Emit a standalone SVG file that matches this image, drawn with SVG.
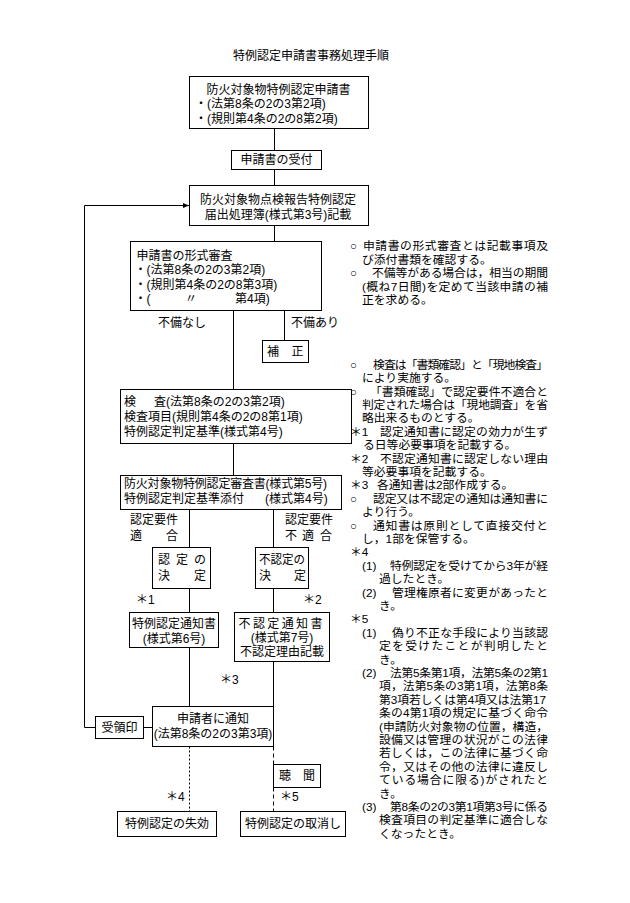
<svg xmlns="http://www.w3.org/2000/svg" width="630" height="903" viewBox="0 0 630 903">
<style>
text{font-family:"Liberation Sans","Noto Sans CJK JP",sans-serif;font-size:12px;fill:#000}
#notes text{font-size:11.8px}
.b{fill:#fff;stroke:#000;stroke-width:1}
.c{stroke:#000;stroke-width:1;fill:none}
.dot{stroke-dasharray:2 2}
.dash{stroke-dasharray:4 3}
.m{text-anchor:middle}
</style>
<defs>
<marker id="ar" markerWidth="6" markerHeight="6" refX="6" refY="3" orient="auto" markerUnits="userSpaceOnUse">
<path d="M0,0.5 L6,3 L0,5.5 Z" fill="#000"/>
</marker>
</defs>
<rect width="630" height="903" fill="#fff"/>
<text x="311" y="60" class="m">特例認定申請書事務処理手順</text>

<g id="connectors">
<path class="c" d="M274.5,128.5V150.5M274.5,169.5V185.5M274.5,225.5V241.5"/>
<path class="c" d="M95.5,727.5H84.5V205.5H189" marker-end="url(#ar)"/>
<path class="c" d="M143.5,727.5H152.5"/>
<path class="c" d="M233.5,310.5V389.5M284.5,310.5V340.5M233.5,443.5V475.5"/>
<path class="c" d="M189.5,509.5V547.5M273.5,509.5V547.5M189.5,588.5V612.5M273.5,588.5V612.5"/>
<path class="c" d="M189.5,647.5V706.5M273.5,661.5V706.5"/>
<path class="c dot" d="M189.5,746.5V811.5"/>
<path class="c dash" d="M273.5,746.5V764.5M273.5,787.5V811.5"/>
</g>

<g id="n-application">
<rect class="b" x="189.5" y="76.5" width="179" height="52"/>
<text x="206.5" y="93.5">防火対象物特例認定申請書</text>
<text x="195" y="108">・(法第8条の2の3第2項)</text>
<text x="195" y="122.5">・(規則第4条の2の8第2項)</text>
</g>

<g id="n-receipt">
<rect class="b" x="231.5" y="150.5" width="90" height="19"/>
<text x="276.5" y="164.3" class="m">申請書の受付</text>
</g>

<g id="n-register">
<rect class="b" x="189.5" y="185.5" width="179" height="40"/>
<text x="278" y="204.3" class="m">防火対象物点検報告特例認定</text>
<text x="278" y="219.3" class="m">届出処理簿(様式第3号)記載</text>
</g>

<g id="n-formal">
<rect class="b" x="130.5" y="241.5" width="191" height="69"/>
<text x="136.5" y="259.8">申請書の形式審査</text>
<text x="134.5" y="274.3">・(法第8条の2の3第2項)</text>
<text x="134.5" y="288.8">・(規則第4条の2の8第3項)</text>
<text x="134.5" y="303.3">・(<tspan x="185">〃</tspan><tspan x="235">第4項)</tspan></text>
</g>

<g id="n-correction">
<rect class="b" x="262.5" y="340.5" width="46" height="22"/>
<text x="267" y="355.8">補<tspan x="291.5">正</tspan></text>
</g>
<text x="158" y="327.3">不備なし</text>
<text x="291" y="327.3">不備あり</text>

<g id="n-inspection">
<rect class="b" x="120.5" y="389.5" width="231" height="54"/>
<text x="124" y="406">検<tspan x="154">査(法第8条の2の3第2項)</tspan></text>
<text x="124" y="421">検査項目(規則第4条の2の8第1項)</text>
<text x="124" y="436">特例認定判定基準(様式第4号)</text>
</g>

<g id="n-review">
<rect class="b" x="120.5" y="475.5" width="221" height="34"/>
<text x="124" y="488.3" textLength="203" lengthAdjust="spacing">防火対象物特例認定審査書(様式第5号)</text>
<text x="124" y="503.3">特例認定判定基準添付<tspan x="265">(様式第4号)</tspan></text>
</g>

<text x="130" y="524.3">認定要件</text>
<text x="130" y="540.3">適<tspan x="166">合</tspan></text>
<text x="285" y="524.3">認定要件</text>
<text x="285" y="540.3">不<tspan x="302">適</tspan><tspan x="320">合</tspan></text>

<g id="n-approve">
<rect class="b" x="152.5" y="547.5" width="58" height="41"/>
<text x="158" y="564.3">認<tspan x="176">定</tspan><tspan x="194">の</tspan></text>
<text x="158" y="580.3">決<tspan x="194">定</tspan></text>
</g>

<g id="n-reject">
<rect class="b" x="255.5" y="547.5" width="53" height="41"/>
<text x="259" y="564.3" textLength="46" lengthAdjust="spacingAndGlyphs">不認定の</text>
<text x="259" y="580.3">決<tspan x="294">定</tspan></text>
</g>

<text x="136" y="604.3">＊1</text>
<text x="303" y="604.3">＊2</text>

<g id="n-notice-ok">
<rect class="b" x="129.5" y="612.5" width="89" height="35"/>
<text x="174" y="628.3" class="m">特例認定通知書</text>
<text x="174" y="643.3" class="m">(様式第6号)</text>
</g>

<g id="n-notice-ng">
<rect class="b" x="234.5" y="612.5" width="95" height="49"/>
<text x="238.5" y="627.8" textLength="84" lengthAdjust="spacing">不認定通知書</text>
<text x="282" y="641.8" class="m">(様式第7号)</text>
<text x="282" y="655.8" class="m">不認定理由記載</text>
</g>

<text x="220" y="684.3">＊3</text>

<g id="n-receipt-seal">
<rect class="b" x="95.5" y="716.5" width="48" height="22"/>
<text x="119.5" y="731.8" class="m">受領印</text>
</g>

<g id="n-notify">
<rect class="b" x="152.5" y="706.5" width="121" height="40"/>
<text x="213" y="723.3" class="m">申請者に通知</text>
<text x="213" y="738.3" class="m">(法第8条の2の3第3項)</text>
</g>

<g id="n-hearing">
<rect class="b" x="273.5" y="764.5" width="47" height="23"/>
<text x="279" y="780.3">聴<tspan x="303">聞</tspan></text>
</g>

<text x="166" y="801.3">＊4</text>
<text x="280" y="801.3">＊5</text>

<g id="n-lapse">
<rect class="b" x="117.5" y="811.5" width="99" height="25"/>
<text x="167" y="828.3" class="m">特例認定の失効</text>
</g>

<g id="n-revoke">
<rect class="b" x="240.5" y="811.5" width="105" height="25"/>
<text x="293" y="828.3" class="m">特例認定の取消し</text>
</g>

<g id="notes">
<text x="350" y="250.3">○</text><text x="363" y="250.3" textLength="185" lengthAdjust="spacing">申請書の形式審査とは記載事項及</text>
<text x="362" y="263.7">び添付書類を確認する。</text>
<text x="350" y="277.1">○</text><text x="372" y="277.1" textLength="176" lengthAdjust="spacing">不備等がある場合は，相当の期間</text>
<text x="362" y="290.5" textLength="186" lengthAdjust="spacing">(概ね7日間)を定めて当該申請の補</text>
<text x="362" y="303.9">正を求める。</text>

<text x="350" y="368.7">○</text><text x="373" y="368.7" textLength="175" lengthAdjust="spacing">検査は「書類確認」と「現地検査」</text>
<text x="362" y="382.1">により実施する。</text>
<text x="350" y="395.5">○</text><text x="370" y="395.5" textLength="178" lengthAdjust="spacing">「書類確認」で認定要件不適合と</text>
<text x="362" y="408.9" textLength="186" lengthAdjust="spacing">判定された場合は「現地調査」を省</text>
<text x="362" y="422.3">略出来るものとする。</text>
<text x="350" y="435.7">＊1</text><text x="380" y="435.7" textLength="168" lengthAdjust="spacing">認定通知書に認定の効力が生ず</text>
<text x="363" y="449.1">る日等必要事項を記載する。</text>
<text x="350" y="462.5">＊2</text><text x="380" y="462.5" textLength="168" lengthAdjust="spacing">不認定通知書に認定しない理由</text>
<text x="362" y="475.9">等必要事項を記載する。</text>
<text x="350" y="489.3">＊3</text><text x="377" y="489.3">各通知書は2部作成する。</text>
<text x="350" y="502.7">○</text><text x="373" y="502.7" textLength="175" lengthAdjust="spacing">認定又は不認定の通知は通知書に</text>
<text x="362" y="516.1">より行う。</text>
<text x="350" y="529.5">○</text><text x="373" y="529.5" textLength="175" lengthAdjust="spacing">通知書は原則として直接交付と</text>
<text x="362" y="542.9">し，1部を保管する。</text>
<text x="350" y="556.3">＊4</text>
<text x="362" y="569.7">(1)</text><text x="390" y="569.7" textLength="158" lengthAdjust="spacing">特例認定を受けてから3年が経</text>
<text x="379" y="583.1">過したとき。</text>
<text x="362" y="596.5">(2)</text><text x="392" y="596.5" textLength="156" lengthAdjust="spacing">管理権原者に変更があったと</text>
<text x="379" y="609.9">き。</text>
<text x="350" y="623.3">＊5</text>
<text x="362" y="636.7">(1)</text><text x="392" y="636.7" textLength="156" lengthAdjust="spacing">偽り不正な手段により当該認</text>
<text x="379" y="650.1" textLength="169" lengthAdjust="spacing">定を受けたことが判明したと</text>
<text x="379" y="663.5">き。</text>
<text x="362" y="676.9">(2)</text><text x="390" y="676.9" textLength="158" lengthAdjust="spacing">法第5条第1項，法第5条の2第1</text>
<text x="379" y="690.3" textLength="169" lengthAdjust="spacing">項，法第5条の3第1項，法第8条</text>
<text x="379" y="703.7" textLength="167" lengthAdjust="spacing">第3項若しくは第4項又は法第17</text>
<text x="379" y="717.1" textLength="169" lengthAdjust="spacing">条の4第1項の規定に基づく命令</text>
<text x="379" y="730.5" textLength="169" lengthAdjust="spacing">(申請防火対象物の位置，構造，</text>
<text x="379" y="743.9" textLength="169" lengthAdjust="spacing">設備又は管理の状況がこの法律</text>
<text x="379" y="757.3" textLength="169" lengthAdjust="spacing">若しくは，この法律に基づく命</text>
<text x="379" y="770.7" textLength="169" lengthAdjust="spacing">令，又はその他の法律に違反し</text>
<text x="379" y="784.1" textLength="169" lengthAdjust="spacing">ている場合に限る)がされたと</text>
<text x="379" y="797.5">き。</text>
<text x="362" y="810.9">(3)</text><text x="390" y="810.9" textLength="158" lengthAdjust="spacing">第8条の2の3第1項第3号に係る</text>
<text x="379" y="824.3" textLength="169" lengthAdjust="spacing">検査項目の判定基準に適合しな</text>
<text x="379" y="837.7">くなったとき。</text>
</g>
</svg>
